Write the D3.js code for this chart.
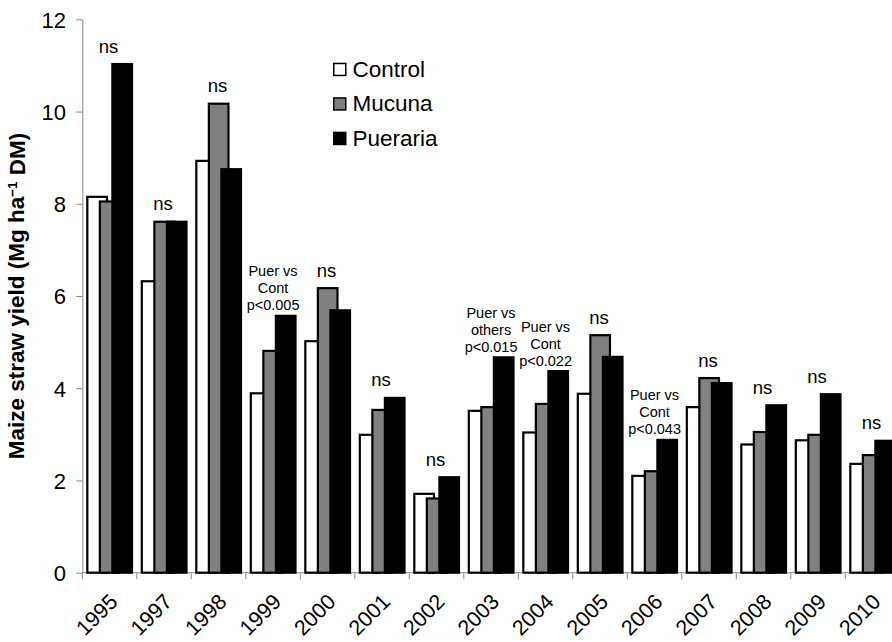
<!DOCTYPE html>
<html>
<head>
<meta charset="utf-8">
<script src="https://cdn.jsdelivr.net/npm/d3@7"></script>
<style>
  html, body { margin: 0; padding: 0; background: #ffffff; }
  svg { display: block; }
  svg text { font-family: "Liberation Sans", Arial, sans-serif; fill: #000; }
</style>
</head>
<body>
<svg id="chart" width="892" height="642"></svg>
<script>
// Maize straw yield by year and cover treatment (Mg ha-1 DM)
const years = ["1995", "1997", "1998", "1999", "2000", "2001", "2002", "2003",
               "2004", "2005", "2006", "2007", "2008", "2009", "2010"];
const control  = [8.15, 6.32, 8.93, 3.89, 5.02, 2.99, 1.71, 3.51, 3.04, 3.88, 2.10, 3.59, 2.78, 2.87, 2.36];
const mucuna   = [8.05, 7.61, 10.17, 4.81, 6.17, 3.53, 1.61, 3.59, 3.66, 5.15, 2.20, 4.22, 3.05, 2.99, 2.55];
const pueraria = [11.03, 7.61, 8.75, 5.57, 5.69, 3.79, 2.07, 4.67, 4.37, 4.68, 2.88, 4.11, 3.63, 3.87, 2.86];
const seriesNames = ["Control", "Mucuna", "Pueraria"];
const seriesFill = ["#ffffff", "#808080", "#000000"];
// significance notes above each year ("|" separates lines)
const notes = ["ns", "ns", "ns", "Puer vs|Cont|p<0.005", "ns", "ns", "ns",
               "Puer vs|others|p<0.015", "Puer vs|Cont|p<0.022", "ns",
               "Puer vs|Cont|p<0.043", "ns", "ns", "ns", "ns"];
const yTicks = [0, 2, 4, 6, 8, 10, 12];

const svg = d3.select("#chart");
const axisColor = "#8a8a8a";
const FONT = '"Liberation Sans", Arial, sans-serif';

const left = 82.3, bandW = 54.5;
const x = d3.scaleBand().domain(years).range([left, left + years.length * bandW]).padding(0);
const y = d3.scaleLinear().domain([0, 12]).range([572.7, 19.3]);

const bw = x.bandwidth();
const barOffset = bw * 0.092, barStep = bw * 0.23, barW = bw * 0.36;

// y axis
const yAxis = svg.append("g")
  .attr("transform", `translate(${left},0)`)
  .call(d3.axisLeft(y).tickValues(yTicks).tickSize(6).tickSizeOuter(0).tickPadding(10));
yAxis.attr("font-family", FONT);
yAxis.select(".domain").attr("stroke", axisColor);
yAxis.selectAll(".tick line").attr("stroke", axisColor);
yAxis.selectAll(".tick text")
  .attr("font-size", 22).attr("fill", "#000").attr("x", -16.3).attr("dy", "0.36em");

// x axis baseline and category boundary ticks
const xEnd = x.range()[1];
svg.append("line")
  .attr("x1", left).attr("x2", xEnd).attr("y1", y(0)).attr("y2", y(0))
  .attr("stroke", axisColor).attr("stroke-width", 1);
svg.append("g").selectAll("line")
  .data(years.map(d => x(d)).concat([xEnd]))
  .join("line")
  .attr("x1", d => d).attr("x2", d => d)
  .attr("y1", y(0)).attr("y2", y(0) + 6.5)
  .attr("stroke", axisColor).attr("stroke-width", 1);

// bars: later series drawn over earlier ones
const seriesData = [control, mucuna, pueraria];
seriesData.forEach((vals, si) => {
  svg.append("g").selectAll("rect")
    .data(vals.map((v, i) => ({ year: years[i], v })))
    .join("rect")
    .attr("x", d => x(d.year) + barOffset + si * barStep)
    .attr("width", barW)
    .attr("y", d => y(d.v))
    .attr("height", d => y(0) - y(d.v))
    .attr("fill", seriesFill[si])
    .attr("stroke", "#000")
    .attr("stroke-width", 2.2);
});

// year labels
svg.append("g").selectAll("text")
  .data(years)
  .join("text")
  .attr("transform", d => `translate(${x(d) + bw / 2 + 4},${y(0) + 25}) rotate(-45)`)
  .attr("text-anchor", "end")
  .attr("dy", "0.35em")
  .attr("font-size", 21.5)
  .text(d => d);

// significance notes
years.forEach((yr, i) => {
  const top = y(Math.max(control[i], mucuna[i], pueraria[i]));
  const lines = notes[i].split("|");
  const cx = x(yr) + bw / 2 - 1;
  if (lines.length === 1) {
    svg.append("text")
      .attr("x", cx).attr("y", top - 11.5)
      .attr("text-anchor", "middle").attr("font-size", 18.5)
      .text(lines[0]);
  } else {
    const t = svg.append("text")
      .attr("text-anchor", "middle").attr("font-size", 14.5);
    lines.forEach((ln, k) => {
      t.append("tspan")
        .attr("x", cx + 1)
        .attr("y", top - 5.5 - (lines.length - 1 - k) * 17)
        .text(ln);
    });
  }
});

// y axis title
const title = svg.append("text")
  .attr("transform", `translate(24,${(y(0) + y(12)) / 2}) rotate(-90)`)
  .attr("text-anchor", "middle")
  .attr("font-size", 22.5)
  .attr("font-weight", "bold");
title.append("tspan").text("Maize straw yield (Mg ha");
title.append("tspan").attr("font-size", 13.5).attr("dy", "-0.55em").text("\u22121");
title.append("tspan").attr("dy", "0.36em").text(" DM)");

// legend
const legend = svg.append("g").attr("transform", "translate(333,62.7)");
seriesNames.forEach((name, i) => {
  const g = legend.append("g").attr("transform", `translate(0,${i * 34.5})`);
  g.append("rect")
    .attr("x", 0.75).attr("y", 0.75).attr("width", 12).attr("height", 12)
    .attr("fill", seriesFill[i]).attr("stroke", "#000").attr("stroke-width", 1.5);
  g.append("text")
    .attr("x", 19.5).attr("y", 13.8)
    .attr("font-size", 22.5)
    .text(name);
});
</script>
</body>
</html>
